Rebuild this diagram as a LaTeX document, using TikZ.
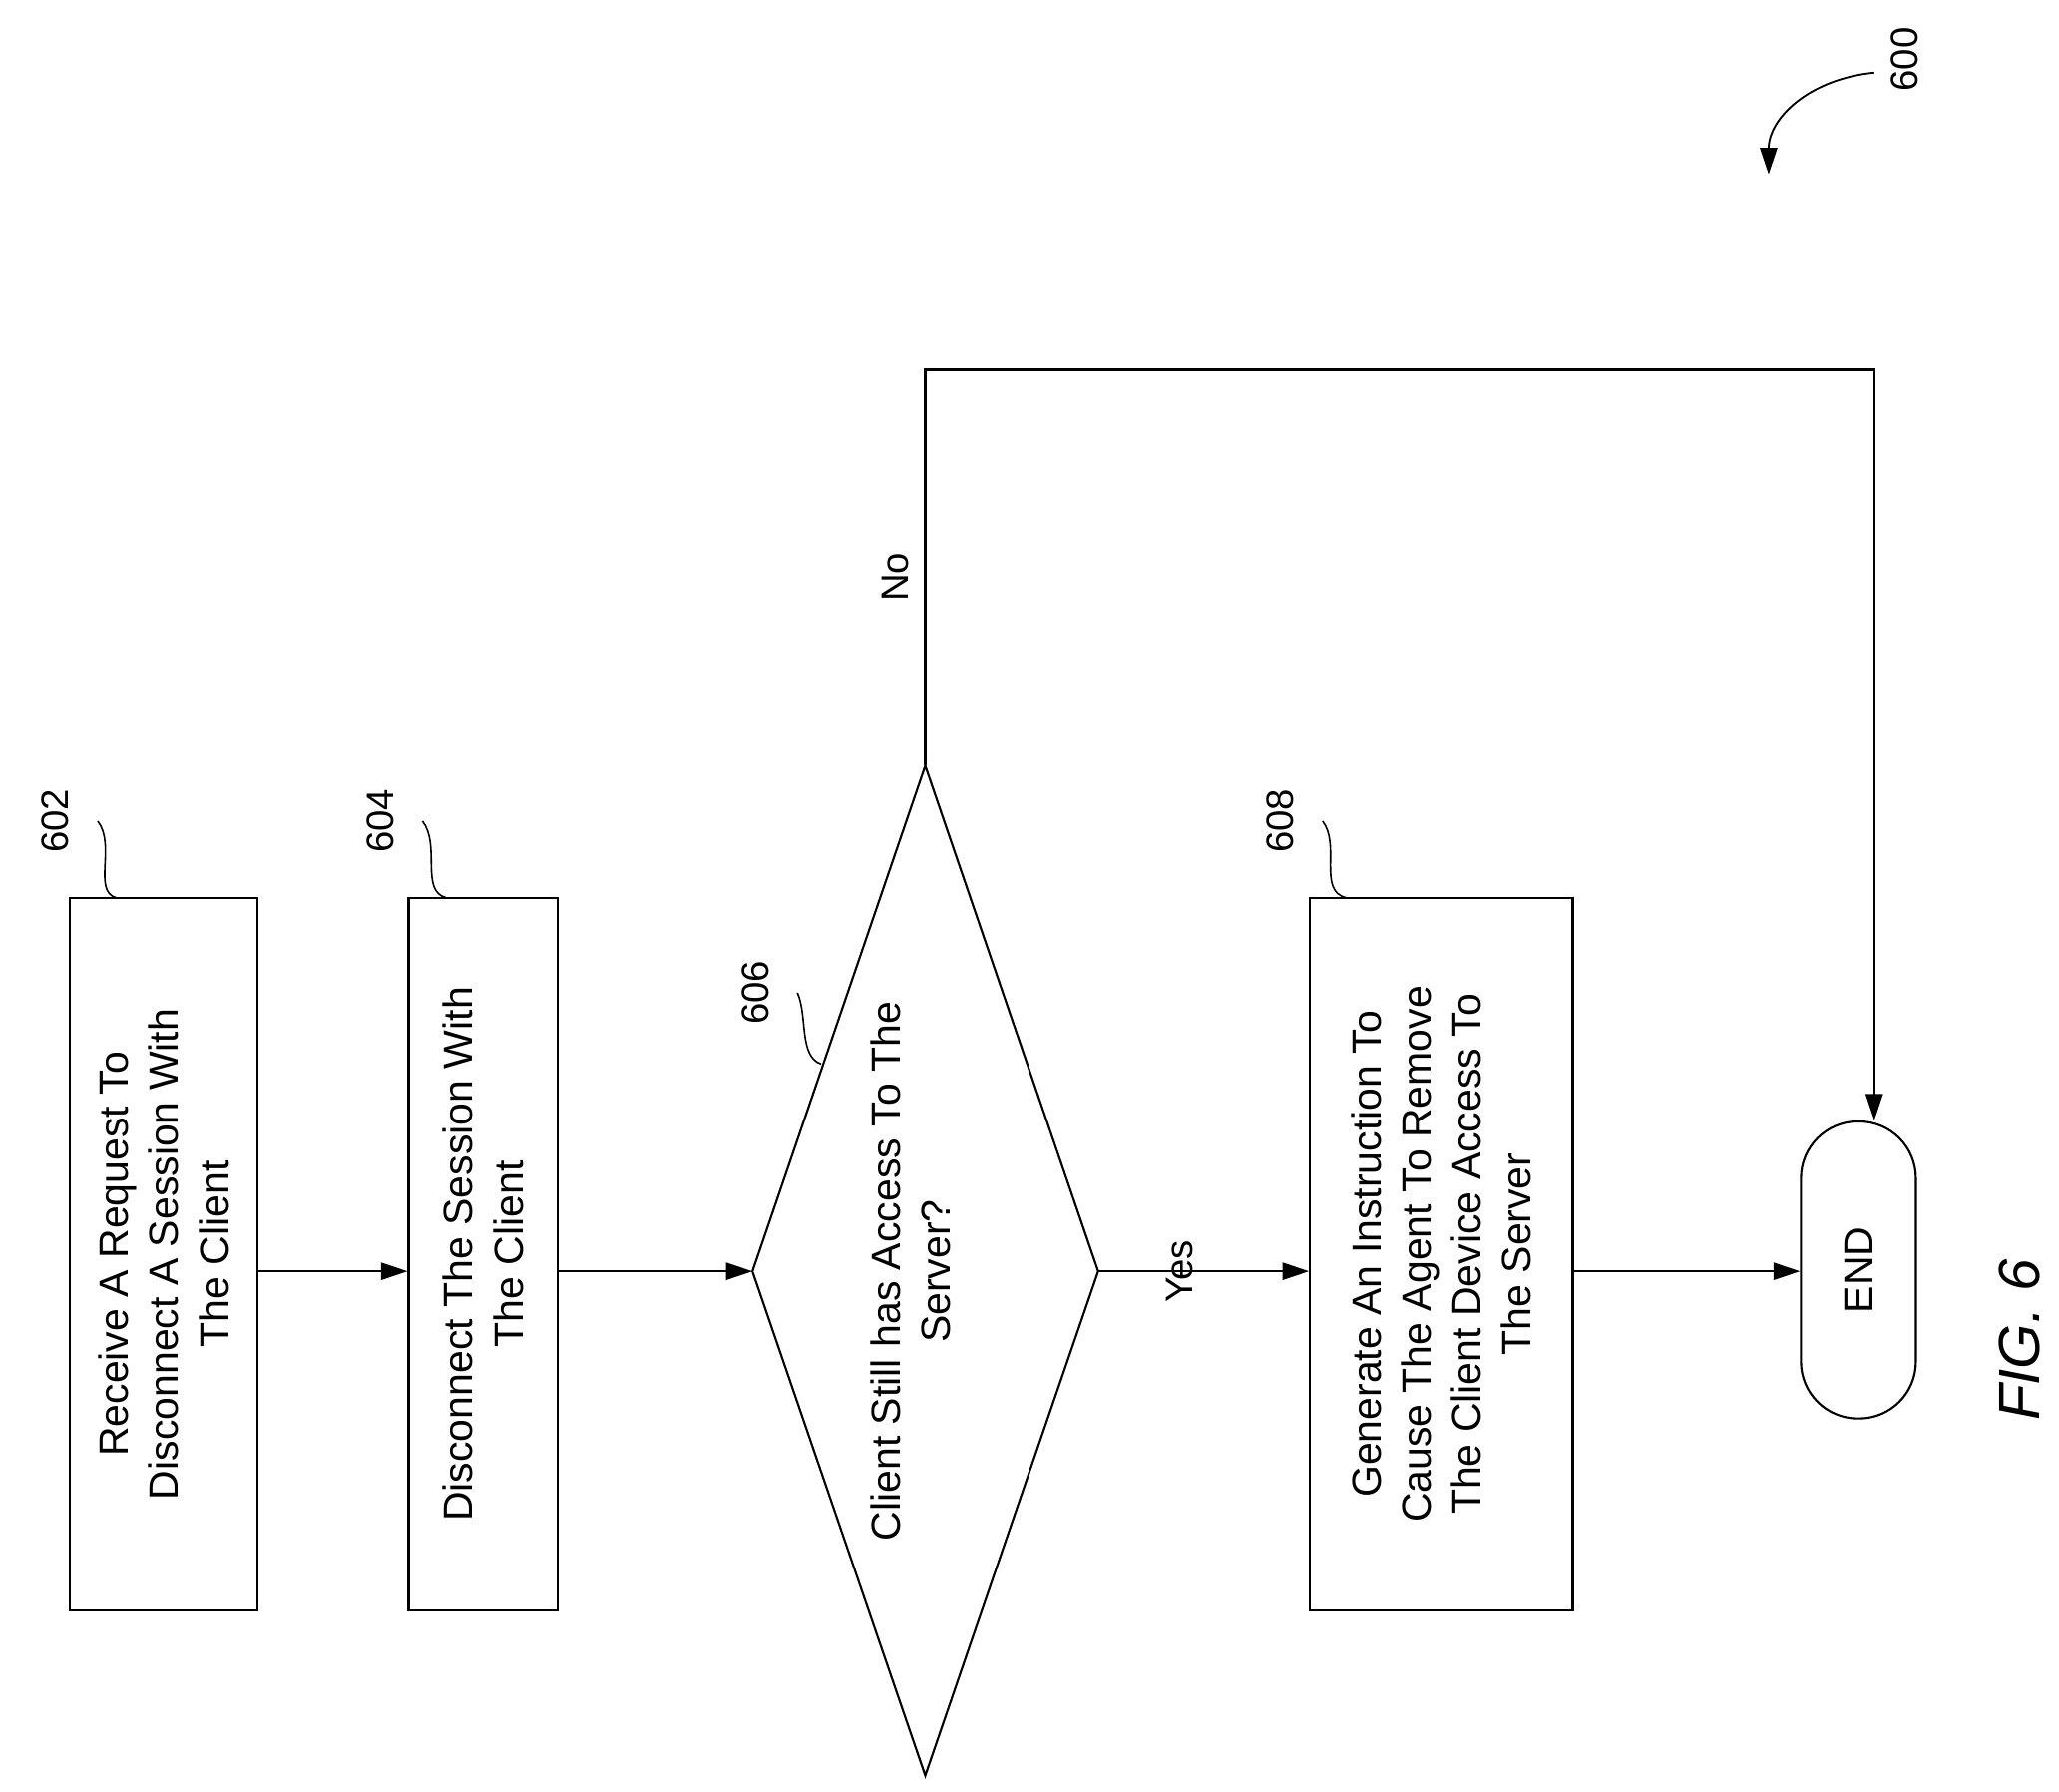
\documentclass[tikz,border=0pt]{standalone}
\usepackage{fontspec}
\setmainfont{Liberation Sans}
\usetikzlibrary{arrows.meta,shapes.geometric}
\begin{document}
\begin{tikzpicture}[x=1pt,y=-1pt,line width=1.6pt,
  box/.style={draw,rotate=90,minimum width=540pt,minimum height=142pt,align=center,font=\fontsize{31}{38}\selectfont,inner sep=4pt},
  txt/.style={rotate=90,align=center,font=\fontsize{31}{38}\selectfont},
  arr/.style={-{Triangle[length=20pt,width=13pt]}},
  lbl/.style={rotate=90,font=\fontsize{29}{34}\selectfont,inner sep=1pt}]
\useasboundingbox (0,0) rectangle (1560,1357);
\node[box] (b602) at (124,950) {Receive A Request To\\Disconnect A Session With\\The Client};
\node[box,minimum height=113pt] (b604) at (366,950) {Disconnect The Session With\\The Client};
\coordinate (dW) at (570,963); \coordinate (dE) at (832,963);
\coordinate (dN) at (701,580); \coordinate (dS) at (701,1345);
\draw (dW)--(dN)--(dE)--(dS)--cycle;
\node[txt] (t606) at (690,963) {Client Still has Access To The\\Server?};
\node[box,minimum height=199pt] (b608) at (1092,950) {Generate An Instruction To\\Cause The Agent To Remove\\The Client Device Access To\\The Server};
\node[draw,rotate=90,rounded corners=43pt,minimum width=225pt,minimum height=87pt,font=\fontsize{31}{38}\selectfont] (end) at (1408,962) {END};
\draw[arr] (b602.south |- dW) -- (b604.north |- dW);
\draw[arr] (b604.south |- dW) -- (dW);
\draw[arr] (dE) -- node[lbl,above=6pt] (yes) {Yes} (b608.north |- dE);
\draw[arr] (b608.south |- dE) -- (end.north |- dE);
\coordinate (c1) at (701,280); \coordinate (c2) at (1420,280);
\draw[arr] (dN) -- (c1) -- (c2) -- (c2 |- end.east);
\node[lbl] (no) at (678,437) {No};
\node[lbl] (l602) at (42,622) {602};
\node[lbl] (l604) at (288,622) {604};
\node[lbl] (l606) at (572,752) {606};
\node[lbl] (l608) at (970,622) {608};
\begin{scope}[line width=1.2pt]
\draw (l602.south) ++(20,0) .. controls (88,640) and (70,675) .. (88,680);
\draw (l604.south) ++(20,0) .. controls (334,640) and (318,675) .. (338,680);
\draw (l608.south) ++(20,0) .. controls (1016,640) and (998,675) .. (1020,680);
\draw (l606.south) ++(20,0) .. controls (612,770) and (605,800) .. (622,806);
\end{scope}
\node[lbl] (l600) at (1443,45) {600};
\coordinate (a600) at (1340,132);
\draw[line width=1.4pt,-{Triangle[length=20pt,width=13pt]}] (1420,55) .. controls (1370,60) and (1340,90) .. (a600);
\node[rotate=90,font=\fontsize{44}{50}\selectfont\itshape] (fig) at (1530,1015) {FIG. 6};
\end{tikzpicture}
\end{document}
